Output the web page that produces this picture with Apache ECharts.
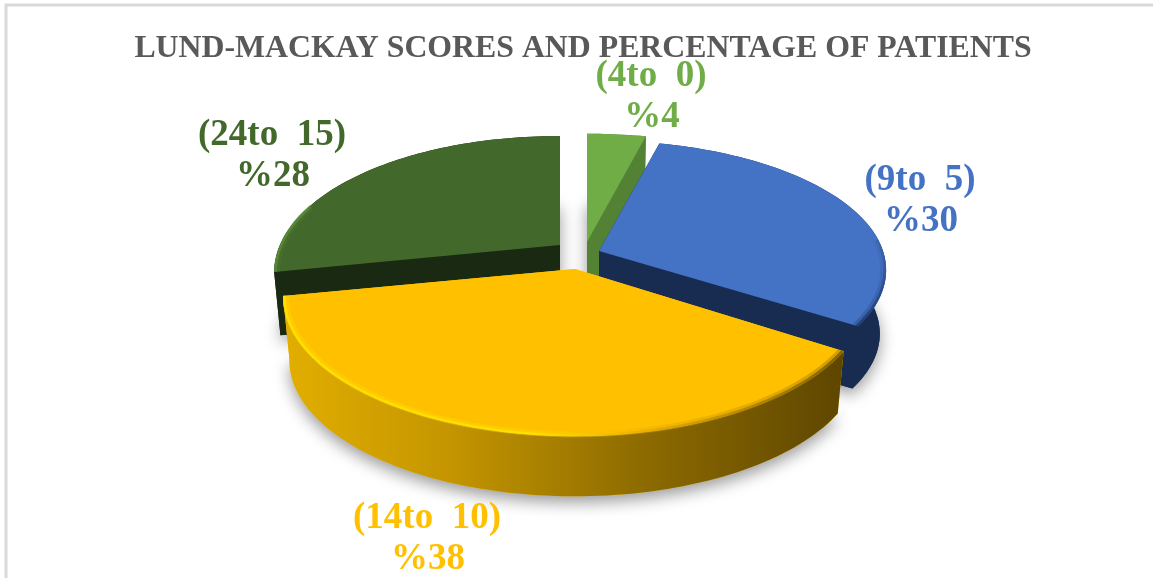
<!DOCTYPE html>
<html lang="en">
<head>
    <meta charset="UTF-8">
    <title>Lund-Mackay scores</title>
    <style>
        html, body { margin: 0; padding: 0; background: #fff; }
        #container { width: 1153px; height: 578px; }
    </style>
</head>
<body>
<div id="container"></div>
<script src="https://cdn.jsdelivr.net/npm/echarts@6/dist/echarts.min.js"></script>
<script type="text/javascript">
    var titleText = 'LUND-MACKAY SCORES AND PERCENTAGE OF PATIENTS';
    var categories = ['(4to  0)', '(9to  5)', '(14to  10)', '(24to  15)'];
    var percents = [4, 30, 38, 28];

    var topColors = ['#70ad47', '#4472c4', '#ffc000', '#43682b'];
    var wallColors = ['#548235', '#182c52', '#ffc000', '#1a2a12'];
    // shape of each exploded slice: tip, radii, perspective, draw order back to front
    var tips = [[587, 242], [599, 251], [575, 269], [560, 245]];
    var radiiX = [297, 284, 286, 280];
    var radiiY = [137, 130, 138, 138];
    var perspectives = [0.21, 0.15, 0.21, 0.21];
    var drawOrder = [10, 20, 40, 30];
    var labelPos = [[651, 76], [920, 180], [427, 518], [272, 135]];

    var depth = 64, baseScale = 0.978;
    var serif = '"Liberation Serif", "Times New Roman", serif';
    var G = echarts.graphic;

    // angle in degrees clockwise from the top of the pie
    function project(i, deg, scale, drop) {
        var t = deg * Math.PI / 180;
        var front = -Math.cos(t);
        var f = 1 + perspectives[i] * front;
        return [
            tips[i][0] + radiiX[i] * Math.sin(t) * f * scale,
            tips[i][1] + radiiY[i] * front * f * scale + drop
        ];
    }

    function arc(i, from, to, scale, drop) {
        var pts = [];
        var n = Math.max(2, Math.ceil((to - from) / 1.5));
        for (var j = 0; j <= n; j++) {
            pts.push(project(i, from + (to - from) * j / n, scale, drop));
        }
        return pts;
    }

    function yellowWall() {
        return new G.LinearGradient(0, 0, 1, 0, [
            {offset: 0, color: '#e2ae00'},
            {offset: 0.3, color: '#c49500'},
            {offset: 0.65, color: '#8c6a00'},
            {offset: 1, color: '#5e4600'}
        ]);
    }

    // bevel along the outer edge of the top face
    function rimLines(i, from, to) {
        var narrow, wide;
        if (i === 2) {
            var stops = [
                {offset: 0, color: '#ffe000'},
                {offset: 0.45, color: '#ffe000'},
                {offset: 0.62, color: '#f0b400'},
                {offset: 1, color: '#7a5c00'}
            ];
            narrow = new G.LinearGradient(0, 0, 1, 0, stops);
            wide = narrow;
        } else if (i === 1) {
            from = 85;
            narrow = new G.LinearGradient(0, 0, 0, 1, [
                {offset: 0, color: 'rgba(40,70,130,0.2)'},
                {offset: 1, color: '#1f3a6e'}
            ]);
            wide = narrow;
        } else if (i === 3) {
            to = from + 28;
            narrow = '#578a36';
            wide = '#4f7a32';
        } else {
            return [];
        }
        return [
            {type: 'polyline', z2: drawOrder[i] + 3, shape: {points: arc(i, from, to, 0.99, 0)},
                style: {fill: null, stroke: wide, lineWidth: 6, opacity: 0.35}},
            {type: 'polyline', z2: drawOrder[i] + 4, shape: {points: arc(i, from, to, 0.995, 0)},
                style: {fill: null, stroke: narrow, lineWidth: 2.5, opacity: 0.9}}
        ];
    }

    function renderSlice(params, api) {
        var i = params.dataIndex;
        var before = 0;
        for (var k = 0; k < i; k++) { before += percents[k]; }
        var from = before * 3.6;
        var to = (before + api.value(0)) * 3.6;
        var tip = tips[i];
        var z = drawOrder[i];

        var topArc = arc(i, from, to, 1, 0);
        var baseArc = arc(i, from, to, baseScale, depth);
        var baseTip = [tip[0], tip[1] + depth];
        var wallFill = i === 2 ? yellowWall() : wallColors[i];

        var children = [
            // base carrying the soft shadow on the page
            {type: 'polygon', z2: 1, shape: {points: [baseTip].concat(baseArc)},
                style: {fill: wallColors[i], shadowBlur: 16, shadowColor: 'rgba(0,0,0,0.4)', shadowOffsetY: 6}},
            {type: 'polygon', z2: z, shape: {points: [tip, baseTip, baseArc[0], topArc[0]]},
                style: {fill: wallColors[i]}},
            {type: 'polygon', z2: z, shape: {points: [tip, baseTip, baseArc[baseArc.length - 1], topArc[topArc.length - 1]]},
                style: {fill: wallColors[i]}},
            {type: 'polygon', z2: z + 1, shape: {points: topArc.concat(baseArc.slice().reverse())},
                style: {fill: wallFill}},
            {type: 'polygon', z2: z + 2, shape: {points: [tip].concat(topArc)},
                style: {fill: topColors[i]}},
            {type: 'text', z2: 100, x: labelPos[i][0], y: labelPos[i][1],
                style: {text: categories[i], fill: topColors[i], font: 'bold 37px ' + serif, textAlign: 'center', textVerticalAlign: 'middle'}},
            {type: 'text', z2: 100, x: labelPos[i][0] + 1, y: labelPos[i][1] + 41,
                style: {text: '%' + api.value(0), fill: topColors[i], font: 'bold 37px ' + serif, textAlign: 'center', textVerticalAlign: 'middle'}}
        ];
        return {type: 'group', children: children.concat(rimLines(i, from, to))};
    }

    var myChart = echarts.init(document.getElementById('container'), null, {renderer: 'canvas'});

    var option = {
        animation: false,
        backgroundColor: '#ffffff',
        title: {
            text: titleText,
            left: 578,
            top: 28,
            textAlign: 'center',
            textStyle: {fontFamily: serif, fontWeight: 'bold', fontSize: 31.8, color: '#595959'}
        },
        graphic: [{
            type: 'rect',
            shape: {x: 6, y: 5, width: 1160, height: 600},
            style: {fill: null, stroke: '#d9d9d9', lineWidth: 3},
            silent: true
        }],
        series: [{
            type: 'custom',
            coordinateSystem: 'none',
            renderItem: renderSlice,
            data: percents.map(function (p) { return [p]; })
        }]
    };

    myChart.setOption(option);
</script>
</body>
</html>
